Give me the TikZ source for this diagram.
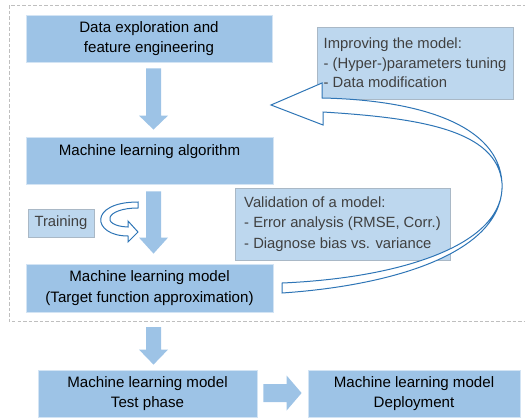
\documentclass[tikz,border=0pt]{standalone}
\usepackage{fontspec}
\setmainfont{Liberation Sans}
\usetikzlibrary{calc}
\definecolor{mainblue}{HTML}{9DC3E6}
\definecolor{lightblue}{HTML}{BDD7EE}
\definecolor{curveblue}{HTML}{2E75B6}
\definecolor{dashgray}{HTML}{BFBFBF}
\definecolor{notegray}{HTML}{404040}
\definecolor{noteborder}{HTML}{A9B8C6}
\tikzset{
  mainbox/.style={rectangle, fill=mainblue, draw=white!55!mainblue, line width=0.8pt,
    align=center, inner sep=0pt, font=\fontsize{15.1}{20.8}\selectfont, text=black},
  notebox/.style={rectangle, fill=lightblue, draw=noteborder, line width=0.8pt,
    align=left, inner sep=0pt, font=\fontsize{14.8}{20.5}\selectfont, text=notegray},
  blk/.style={fill=mainblue},
  hollowarrow/.style={fill=white, draw=curveblue, line width=1pt, line join=miter}
}
\newcommand\downblk[4]{% #1 x, #2 shaft top coord, #3 tip coord, #4 head length
  \fill[blk] let \p1=#2, \p2=#3 in
    (#1-7.5pt,\y1) -- (#1+7.5pt,\y1) -- (#1+7.5pt,\y2+#4) -- (#1+14.5pt,\y2+#4) --
    (#1,\y2) -- (#1-14.5pt,\y2+#4) -- (#1-7.5pt,\y2+#4) -- cycle;}
\begin{document}
\begin{tikzpicture}[x=1pt,y=1pt]
\useasboundingbox (0,0) rectangle (525,-418);
% dashed frame
\draw[dashgray, line width=1pt, dash pattern=on 3.5pt off 2pt] (9,-5) rectangle (540,-321);
% main boxes
\node[mainbox, minimum width=246, minimum height=47] (b1) at (149,-38.5) {Data exploration and\\feature engineering};
\node[mainbox, minimum width=247, minimum height=47] (b2) at (149.5,-160.5) {Machine learning algorithm\\\mbox{}};
\node[mainbox, minimum width=247, minimum height=48] (b3) at (149.5,-288) {Machine learning model\\(Target function approximation)};
\node[mainbox, minimum width=219, minimum height=47] (b4) at (147.5,-393.5) {Machine learning model\\Test phase};
\node[mainbox, minimum width=212, minimum height=47] (b5) at (414,-393.5) {Machine learning model\\Deployment};
% note boxes
\node[notebox, minimum width=66, minimum height=28, align=center] (tr) at (61,-223) {Training};
\node[notebox, minimum width=215, minimum height=72] (val) at (342.5,-224) {Validation of a model:\\- Error analysis (RMSE, Corr.)\\- Diagnose bias vs. variance};
\node[notebox, minimum width=196, minimum height=72, font=\fontsize{14.8}{19.5}\selectfont] (imp) at (415,-63) {Improving the model:\\- (Hyper-)parameters tuning\\- Data modification};
% block arrows
\coordinate (a1s) at ($(b1.south)+(0,-6)$);
\coordinate (a1t) at ($(b2.north)+(0,7)$);
\downblk{153.5pt}{(a1s)}{(a1t)}{14pt}
\coordinate (a2s) at ($(b2.south)+(0,-7)$);
\coordinate (a2t) at ($(b3.north)+(0,10)$);
\downblk{153.5pt}{(a2s)}{(a2t)}{16pt}
\coordinate (a3s) at (153.5,-327);
\coordinate (a3t) at ($(b4.north)+(0,5)$);
\downblk{153.5pt}{(a3s)}{(a3t)}{15pt}
% right block arrow b4 -> b5
\coordinate (r1) at ($(b4.east)+(6,0.5)$);
\coordinate (r2) at ($(b5.west)+(-6,0.5)$);
\fill[blk] let \p1=(r1), \p2=(r2) in
  (\x1,\y1+9pt) -- (\x2-15pt,\y1+9pt) -- (\x2-15pt,\y1+17.5pt) -- (\x2,\y1) --
  (\x2-15pt,\y1-17.5pt) -- (\x2-15pt,\y1-9pt) -- (\x1,\y1-9pt) -- cycle;
% training U-turn arrow
\draw[hollowarrow] (138,-202) .. controls (88,-202) and (92,-236) .. (128,-236)
  -- (128,-242) -- (138,-232) -- (128,-221) -- (128,-227)
  .. controls (100,-226) and (105,-208) .. (138,-208) -- cycle;
% big feedback arrow
\draw[hollowarrow] (282,-293) .. controls (400,-285) and (505,-250) .. (502,-183)
  .. controls (499,-125) and (420,-100) .. (322,-98)
  -- (322,-83) -- (271,-105) -- (323,-125) -- (323,-112)
  .. controls (420,-118) and (497,-130) .. (502,-183)
  .. controls (506,-245) and (400,-278) .. (282,-283) -- cycle;
\end{tikzpicture}
\end{document}
